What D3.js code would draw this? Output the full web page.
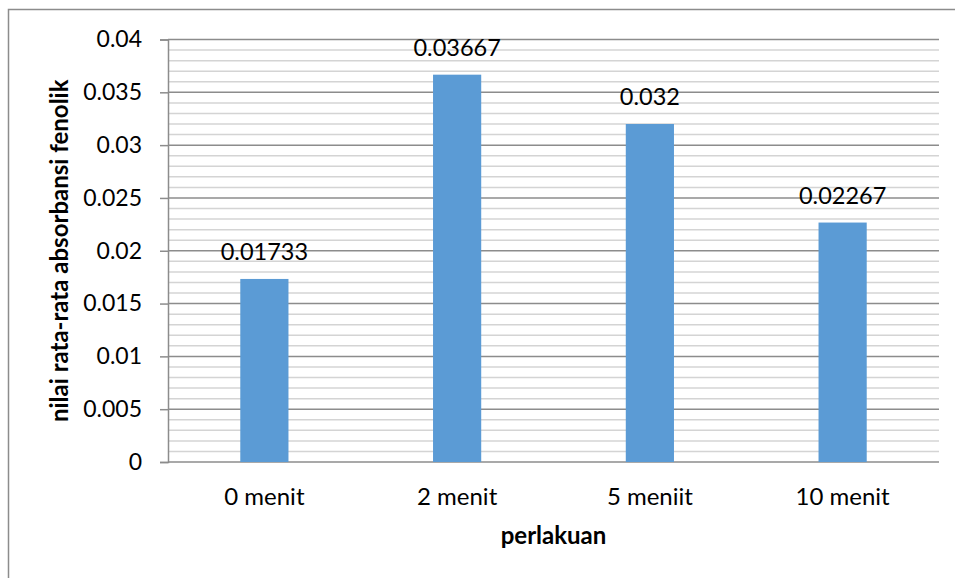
<!DOCTYPE html>
<html>
<head>
<meta charset="utf-8">
<script src="https://cdn.jsdelivr.net/npm/d3@7"></script>
<style>
  body { margin: 0; background: #fff; }
  svg text { font-family: Lato, "Open Sans", sans-serif; fill: #000; }
</style>
</head>
<body>
<div id="chart"></div>
<script>
const categories = ["0 menit", "2 menit", "5 meniit", "10 menit"];
const values = [0.01733, 0.03667, 0.032, 0.02267];
const valueLabels = ["0.01733", "0.03667", "0.032", "0.02267"];
const yTicks = [0, 0.005, 0.01, 0.015, 0.02, 0.025, 0.03, 0.035, 0.04];
const yTickLabels = ["0", "0.005", "0.01", "0.015", "0.02", "0.025", "0.03", "0.035", "0.04"];
const yMinor = d3.range(0, 41).map((i) => i * 0.001);

const W = 955, H = 578;
const M = { top: 39.5, right: 16, bottom: 116, left: 168 };
const innerW = W - M.left - M.right;
const innerH = H - M.top - M.bottom;

const svg = d3.select("#chart").append("svg")
  .attr("width", W).attr("height", H);

// outer chart border
svg.append("rect")
  .attr("x", 8.5).attr("y", 9.5)
  .attr("width", W).attr("height", H)
  .attr("fill", "none").attr("stroke", "#8c8c8c").attr("stroke-width", 1.5);

const g = svg.append("g").attr("transform", `translate(${M.left},${M.top})`);

const x = d3.scaleBand().domain(categories).range([0, innerW]).paddingInner(0.75).paddingOuter(0.375);
const y = d3.scaleLinear().domain([0, 0.04]).range([innerH, 0]);

// minor gridlines
g.append("g").selectAll("line")
  .data(yMinor.filter((v) => Math.round(v * 1000) % 5 !== 0))
  .join("line")
  .attr("x1", 0).attr("x2", innerW)
  .attr("y1", (d) => y(d)).attr("y2", (d) => y(d))
  .attr("stroke", "#d4d4d4").attr("stroke-width", 1.5);

// major gridlines
g.append("g").selectAll("line")
  .data(yTicks)
  .join("line")
  .attr("x1", 0).attr("x2", innerW)
  .attr("y1", (d) => y(d)).attr("y2", (d) => y(d))
  .attr("stroke", "#8c8c8c").attr("stroke-width", 1.5);

// y axis
const yAxis = g.append("g")
  .call(d3.axisLeft(y).tickValues(yTicks).tickSize(8).tickPadding(18)
    .tickFormat((d, i) => yTickLabels[i]));
yAxis.select(".domain").attr("stroke", "#8c8c8c").attr("stroke-width", 1.5);
yAxis.selectAll(".tick line").attr("stroke", "#8c8c8c").attr("stroke-width", 1.5);
yAxis.selectAll(".tick text").attr("font-size", 23).attr("font-family", "Lato, sans-serif");

// bars
g.selectAll(".bar")
  .data(values)
  .join("rect")
  .attr("class", "bar")
  .attr("x", (d, i) => x(categories[i]))
  .attr("y", (d) => y(d))
  .attr("width", x.bandwidth())
  .attr("height", (d) => innerH - y(d))
  .attr("fill", "#5b9bd5");

// value labels
g.selectAll(".val")
  .data(values)
  .join("text")
  .attr("class", "val")
  .attr("x", (d, i) => x(categories[i]) + x.bandwidth() / 2)
  .attr("y", (d) => y(d) - 19)
  .attr("text-anchor", "middle")
  .attr("font-size", 23.5)
  .text((d, i) => valueLabels[i]);

// category labels
g.selectAll(".cat")
  .data(categories)
  .join("text")
  .attr("class", "cat")
  .attr("x", (d) => x(d) + x.bandwidth() / 2)
  .attr("y", innerH + 43)
  .attr("text-anchor", "middle")
  .attr("font-size", 24)
  .text((d) => d);

// axis titles
g.append("text")
  .attr("x", innerW / 2)
  .attr("y", innerH + 82)
  .attr("text-anchor", "middle")
  .attr("font-size", 24)
  .attr("font-weight", "bold")
  .text("perlakuan");

g.append("text")
  .attr("transform", "rotate(-90)")
  .attr("x", -innerH / 2)
  .attr("y", -100)
  .attr("text-anchor", "middle")
  .attr("font-size", 24)
  .attr("font-weight", "bold")
  .text("nilai rata-rata absorbansi fenolik");
</script>
</body>
</html>
